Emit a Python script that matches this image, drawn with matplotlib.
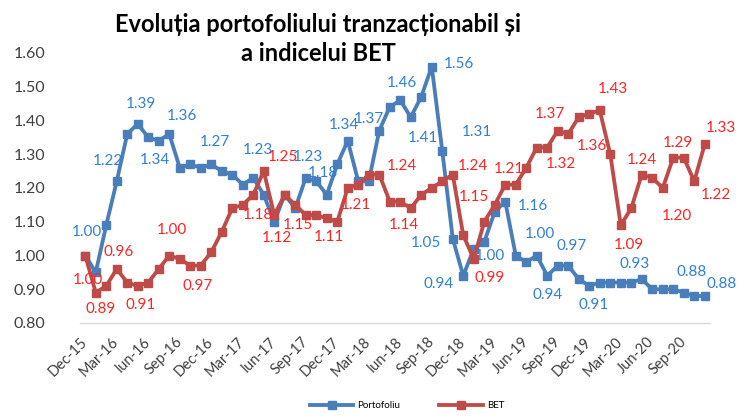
import matplotlib
matplotlib.use("Agg")
import matplotlib.pyplot as plt

# monthly values, Dec-15 .. Nov-20
portofoliu = [1.00, 0.95, 1.09, 1.22, 1.36, 1.39, 1.35, 1.34, 1.36, 1.26,
              1.27, 1.26, 1.27, 1.25, 1.24, 1.21, 1.23, 1.18, 1.10, 1.18,
              1.14, 1.23, 1.22, 1.18, 1.27, 1.34, 1.22, 1.22, 1.37, 1.44,
              1.46, 1.41, 1.47, 1.56, 1.31, 1.05, 0.94, 1.02, 1.04, 1.13,
              1.16, 1.00, 0.98, 1.00, 0.94, 0.97, 0.97, 0.93, 0.91, 0.92,
              0.92, 0.92, 0.92, 0.93, 0.90, 0.90, 0.90, 0.89, 0.88, 0.88]
bet = [1.00, 0.89, 0.91, 0.96, 0.92, 0.91, 0.92, 0.96, 1.00, 0.99,
       0.97, 0.97, 1.01, 1.07, 1.14, 1.15, 1.18, 1.25, 1.12, 1.18,
       1.15, 1.12, 1.12, 1.11, 1.10, 1.20, 1.21, 1.24, 1.24, 1.16,
       1.16, 1.14, 1.18, 1.20, 1.22, 1.24, 1.06, 0.99, 1.10, 1.15,
       1.21, 1.21, 1.26, 1.32, 1.32, 1.37, 1.36, 1.41, 1.42, 1.43,
       1.30, 1.09, 1.14, 1.24, 1.23, 1.20, 1.29, 1.29, 1.22, 1.33]
tick_labels = ["Dec-15", "Mar-16", "Iun-16", "Sep-16", "Dec-16", "Mar-17",
               "Iun-17", "Sep-17", "Dec-17", "Mar-18", "Iun-18", "Sep-18",
               "Dec-18", "Mar-19", "Jun-19", "Sep-19", "Dec-19", "Mar-20",
               "Jun-20", "Sep-20"]

# which points carry a value label, with the label offset (pixels, right / down)
blue_lbl = [(0, 2, -23), (3, -9, -20), (5, 3, -20), (7, -4, 19), (8, 13, -18),
            (12, 4, -22), (16, 5, -28), (21, 2, -21), (23, -4, -22), (25, -4, -16),
            (28, -10, -12), (30, 2, -17), (31, 12, 21), (33, 27, -2), (34, 35, -19),
            (35, -27, 4), (36, -25, 8), (40, 28, 5), (41, -26, 0), (43, 3, -22),
            (44, 0, 19), (46, 3, -20), (48, 4, 19), (53, -7, -15), (58, -3, -24),
            (59, 17, -12)]
red_lbl = [(0, 3, 24), (1, 5, 16), (3, 2, -17), (5, 3, 19), (8, 3, -25),
           (11, -3, 20), (16, 5, 20), (17, 19, -14), (18, 3, 23), (20, 3, 20),
           (23, 2, 19), (26, -2, 20), (28, 23, -8), (31, -7, 17), (35, 20, -9),
           (37, 16, 19), (39, -21, -8), (40, 4, -16), (44, 14, 16), (45, -8, -17),
           (46, 24, 12), (49, 13, -21), (51, 8, 20), (53, 0, -15), (55, 14, 28),
           (56, 5, -15), (58, 22, 14), (59, 16, -16)]

plt.rcParams['font.family'] = ['Lato', 'DejaVu Sans']

blue, red = '#4A7EBB', '#BE4B48'
blue_txt, red_txt = '#2F80D8', '#FF2424'

fig = plt.figure(figsize=(7.41, 4.17), dpi=100)
ax = fig.add_axes([80 / 741, 1 - 323 / 417, 630 / 741, 270 / 417])

x = list(range(len(portofoliu)))
ax.plot(x, portofoliu, color=blue, lw=2.75, marker='s', ms=6, label='Portofoliu', zorder=3)
ax.plot(x, bet, color=red, lw=2.75, marker='s', ms=6, label='BET', zorder=4)

for data, lbls, col in [(portofoliu, blue_lbl, blue_txt), (bet, red_lbl, red_txt)]:
    for i, dx, dy in lbls:
        ax.annotate(f"{data[i]:.2f}", (i, data[i]), xytext=(dx, -dy),
                    textcoords='offset pixels', ha='center', va='center',
                    fontsize=11, color=col, zorder=5)

ax.set_xlim(-0.5, len(x) - 0.5)
ax.set_ylim(0.80, 1.60)
ax.set_yticks([0.8 + 0.1 * k for k in range(9)])
ax.set_yticklabels([f"{0.8 + 0.1 * k:.2f}" for k in range(9)])
ax.set_xticks(range(0, len(x), 3))
ax.set_xticklabels(tick_labels, rotation=45, ha='right', va='center',
                   rotation_mode='anchor')
ax.tick_params(axis='y', length=0, pad=25, labelsize=11.5, labelcolor='#404040')
ax.tick_params(axis='x', length=0, pad=12, labelsize=10.5, labelcolor='#404040')
for s in ['top', 'right', 'left']:
    ax.spines[s].set_visible(False)
ax.spines['bottom'].set_color('#D9D9D9')
ax.spines['bottom'].set_linewidth(1)

fig.text(318 / 741, 1 - 39 / 417,
         "Evoluția portofoliului tranzacționabil și\na indicelui BET",
         ha='center', va='center', fontsize=17, fontweight='bold',
         linespacing=1.35, color='black')

fig.legend(loc='lower center', bbox_to_anchor=(407 / 741, -0.005), ncol=2,
           frameon=False, fontsize=7, handlelength=4.5, columnspacing=4,
           handletextpad=0.4)

fig.savefig('out.png', dpi=100)
